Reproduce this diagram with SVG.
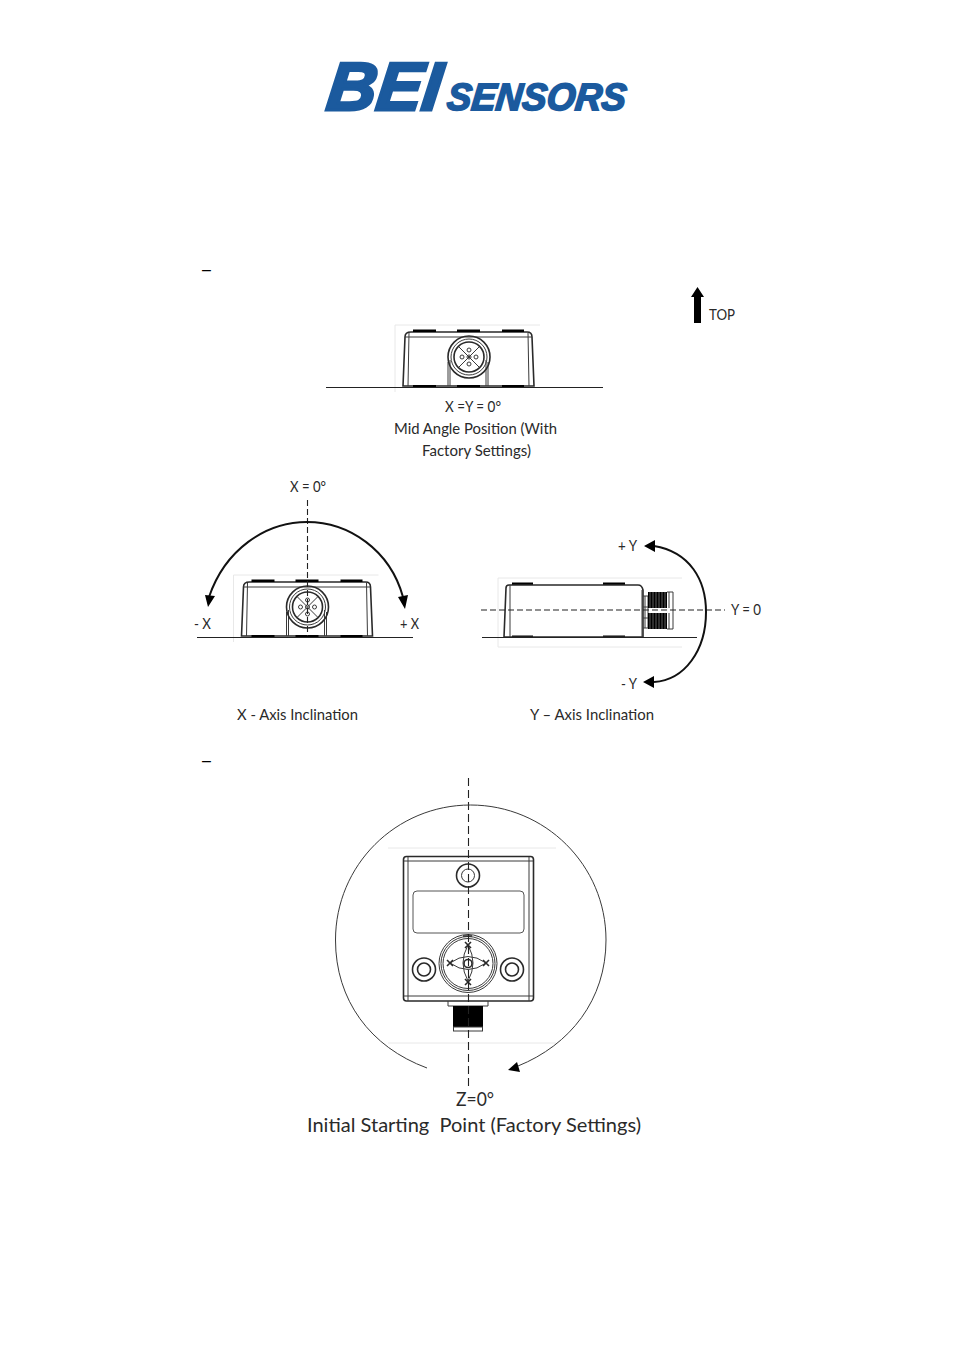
<svg xmlns="http://www.w3.org/2000/svg" xmlns:xlink="http://www.w3.org/1999/xlink" width="954" height="1350" viewBox="0 0 954 1350">
<style>
.t{font-family:Lato,"Open Sans","Liberation Sans",sans-serif;font-size:16px;fill:#2a2a2a}
.b{font-size:20px}
.l{fill:none;stroke:#3a3a3a;stroke-width:1}
.h{fill:none;stroke:#2a2a2a;stroke-width:1.6}
.f{fill:none;stroke:#e8e8e8;stroke-width:1}
.g{fill:none;stroke:#222;stroke-width:1}
.d{fill:none;stroke:#222;stroke-width:1.100;stroke-dasharray:6 3}
.a{fill:none;stroke:#111;stroke-width:2}
.k{fill:#000;stroke:none}
.w{fill:none;stroke:#888;stroke-width:.7}
.logo{font-family:"Liberation Sans",Arial,sans-serif;font-weight:bold;font-style:italic;fill:#1b5a9e;stroke:#1b5a9e}
.dash{font-family:"Liberation Sans",sans-serif;font-size:16px;fill:#000}
</style>
<defs>
<g id="front">
<path class="f" d="M395 392V325H540"/>
<path class="h" d="M403 386L405 337Q405 332 411 332H527Q532 332 532 337L534 386Z"/>
<path class="l" d="M408 386L409 333M529 386L528 333M405 337H532"/>
<path class="k" d="M413 329.500h23v2.500h-23zM457 329.500h23v2.500h-23zM502 329.500h22v2.500h-22zM413 385h23v2.500h-23zM457 385h23v2.500h-23zM502 385h22v2.500h-22z"/>
<path class="l" d="M448 362V386M488 362V386M450 386V360M486 386V360"/>
<circle class="h" cx="469" cy="357" r="21" fill="#fff"/>
<circle class="l" cx="469" cy="357" r="18"/>
<circle class="h" cx="469" cy="357" r="15"/>
<path class="l" d="M459 347L479 367M479 347L459 367"/>
<circle class="l" cx="469" cy="357" r="2"/><circle class="l" cx="462" cy="357" r="2"/><circle class="l" cx="476" cy="357" r="2"/><circle class="l" cx="469" cy="350" r="2"/><circle class="l" cx="469" cy="364" r="2"/>
</g>
</defs>

<g id="logo">
<text class="logo" transform="translate(325 110) skewX(-7)" font-size="68" stroke-width="3" textLength="114" lengthAdjust="spacingAndGlyphs">BEI</text>
<text class="logo" transform="translate(446 110) skewX(-6)" font-size="38" stroke-width="1.800" textLength="179" lengthAdjust="spacingAndGlyphs">SENSORS</text>
</g>

<text class="dash" x="202" y="275">–</text>
<text class="dash" x="202" y="766">–</text>

<g id="top-arrow">
<path class="k" d="M697.500 287L704 297H701V323H694V297H691Z"/>
<text class="t" x="709" y="320" textLength="26" lengthAdjust="spacingAndGlyphs">TOP</text>
</g>

<g id="device-mid">
<use xlink:href="#front" href="#front"/>
<path class="g" d="M326 387.500H603"/>
<text class="t" x="445" y="412" textLength="56" lengthAdjust="spacingAndGlyphs">X =Y = 0°</text>
<text class="t" x="394" y="434" textLength="163" lengthAdjust="spacingAndGlyphs">Mid Angle Position (With</text>
<text class="t" x="422" y="456" textLength="109" lengthAdjust="spacingAndGlyphs">Factory Settings)</text>
</g>

<g id="device-x">
<use xlink:href="#front" href="#front" transform="translate(-161.500 250)"/>
<path class="g" d="M197 637.500H413"/>
<text class="t" x="290" y="492" textLength="36" lengthAdjust="spacingAndGlyphs">X = 0°</text>
<text class="t" x="194" y="629" textLength="17" lengthAdjust="spacingAndGlyphs">- X</text>
<text class="t" x="400" y="629" textLength="19" lengthAdjust="spacingAndGlyphs">+ X</text>
<text class="t" x="237" y="720" textLength="121" lengthAdjust="spacingAndGlyphs">X - Axis Inclination</text>
</g>

<g id="device-y">
<path class="f" d="M682 578H498V647H682"/>
<path class="k" d="M512 582.500h21v2.500h-21zM603 582.500h22v2.500h-22zM512 635.500h21v2.500h-21zM603 635.500h22v2.500h-22z"/>
<path class="h" d="M504 637L506 588Q506 585 509 585H638Q642 585 643 590V637Z"/>
<path class="l" d="M510 637V585M642 590V637M643 596H648V628H643M645 596V628M643 607H648M643 618H648"/>
<path class="k" d="M648 592h19v16h-19zM648 613h19v16h-19z"/>
<path class="l" d="M667 592H673V629H667M669 592V608M669 613V629"/>
<path class="w" d="M650 592V608M653 592V608M656 592V608M659 592V608M662 592V608M665 592V608M650 613V629M653 613V629M656 613V629M659 613V629M662 613V629M665 613V629"/>
<path class="g" d="M482 637.500H697"/>
<text class="t" x="731" y="615" textLength="30" lengthAdjust="spacingAndGlyphs">Y = 0</text>
<text class="t" x="618" y="551" textLength="19" lengthAdjust="spacingAndGlyphs">+ Y</text>
<text class="t" x="621" y="689" textLength="16" lengthAdjust="spacingAndGlyphs">- Y</text>
<text class="t" x="530" y="720" textLength="124" lengthAdjust="spacingAndGlyphs">Y – Axis Inclination</text>
</g>

<g id="device-z">
<path class="f" d="M388 848H556M388 1043H556"/>
<rect class="h" x="403.500" y="856.500" width="130" height="144.500" rx="3"/>
<path class="l" d="M408 857V1001M529 857V1001M404 861H533M404 996H533"/>
<rect class="g" x="413" y="891" width="111" height="42" rx="4" style="stroke:#555"/>
<circle class="h" cx="468" cy="875.500" r="11.500"/><circle class="l" cx="468" cy="875.500" r="6.500"/>
<circle class="h" cx="424" cy="969.500" r="11.500"/><circle class="h" cx="424" cy="969.500" r="6.500"/>
<circle class="h" cx="512" cy="969.500" r="11.500"/><circle class="h" cx="512" cy="969.500" r="6.500"/>
<circle class="l" cx="468" cy="963.500" r="29"/><circle class="l" cx="468" cy="963.500" r="27"/><circle class="l" cx="468" cy="963.500" r="25"/>
<path class="l" d="M450 963Q468 950 486 963Q468 976 450 963ZM468 945Q458 963 468 981Q478 963 468 945Z"/>
<path class="h" d="M447 960L453 966M453 960L447 966M483 960L489 966M489 960L483 966M465 942L471 948M471 942L465 948M465 979L471 985M471 979L465 985M463 936L472 936"/>
<circle class="h" cx="468" cy="963.500" r="4"/>
<path class="l" d="M448 1001V1006H488V1001"/>
<rect class="k" x="453" y="1006" width="30" height="21"/>
<rect class="l" x="453.500" y="1027" width="29" height="4"/>
</g>

<g id="connectors">
<path class="d" d="M307.500 500V636"/>
<path class="a" d="M209 597C225 550 265 522 307 522S390 550 403 597"/>
<path class="k" d="M208 607L205 595L215 596ZM405 609L398 597L408 595Z"/>
<path class="d" d="M481 610H725"/>
<path class="a" d="M654 546C690 552 706 580 706 612C706 650 685 680 654 682"/>
<path class="k" d="M644 546L655 540V552ZM643 682L654 676V688Z"/>
<path class="d" d="M468.500 778V1090" style="stroke-dasharray:8 4"/>
<path class="l" d="M427 1068C370 1047 335.500 1000 335.500 940C335.500 865 396 805 470.500 805C545 805 606 865 606 940C606 1000 570 1045 518 1066"/>
<path class="k" d="M508 1070L517 1062L520 1072Z"/>
</g>

<g id="z-labels">
<text class="t b" x="456" y="1106" textLength="38" lengthAdjust="spacingAndGlyphs">Z=0°</text>
<text class="t b" x="307" y="1132" textLength="334" lengthAdjust="spacingAndGlyphs" xml:space="preserve">Initial Starting  Point (Factory Settings)</text>
</g>
</svg>
